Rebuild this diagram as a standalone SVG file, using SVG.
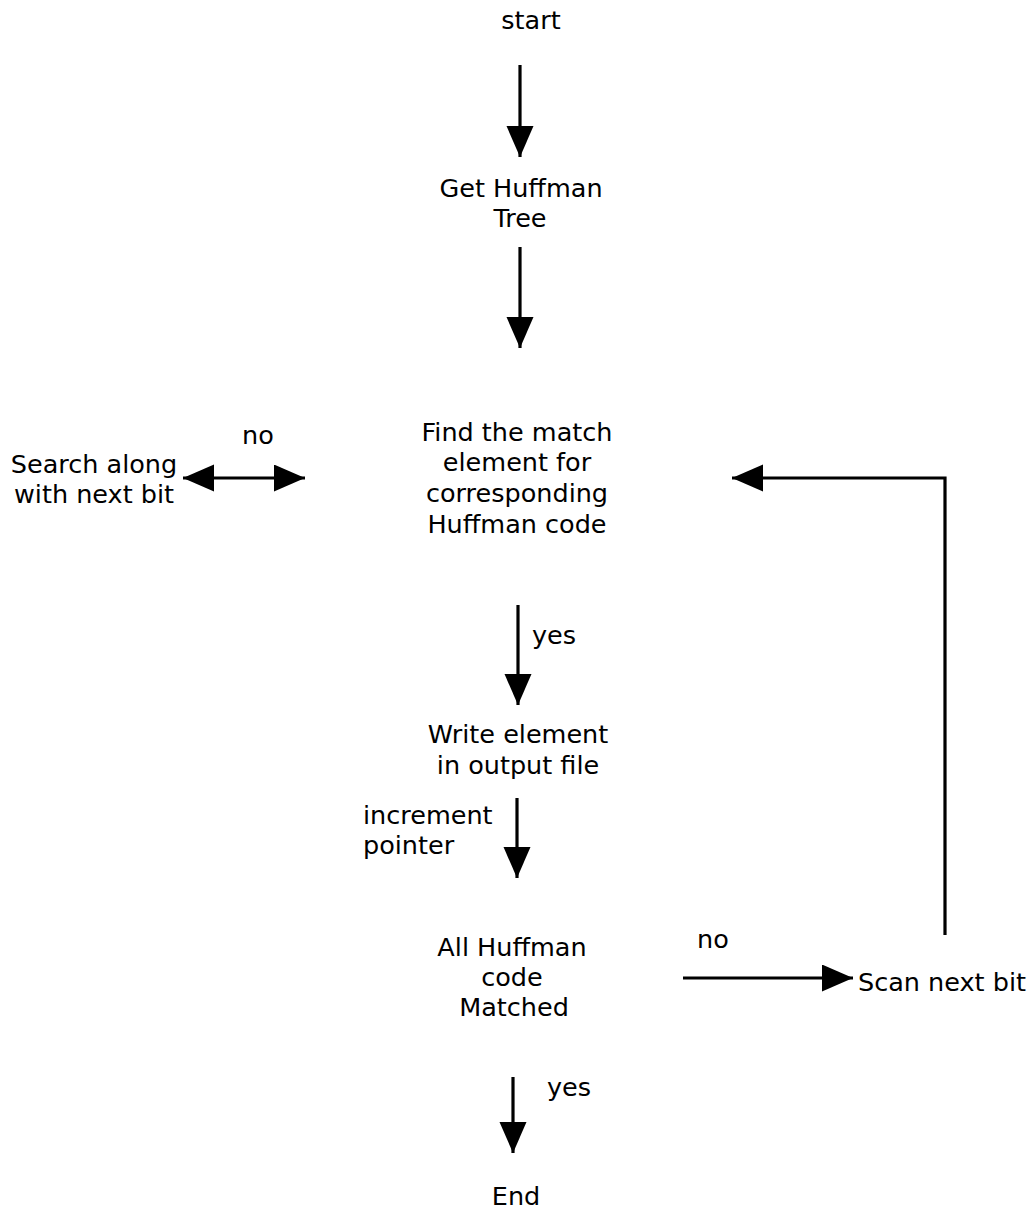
<svg xmlns="http://www.w3.org/2000/svg" width="1034" height="1212" viewBox="0 0 1034 1212">
<style>
text{font-family:"DejaVu Sans","Verdana",sans-serif;font-size:25.5px;fill:#000}
.c{text-anchor:middle}
.ln{stroke:#000;stroke-width:3.2;fill:none}
</style>
<defs>
<marker id="ah" markerUnits="userSpaceOnUse" markerWidth="32" markerHeight="28" refX="31" refY="13.5" orient="auto-start-reverse">
<path d="M0,0 L31,13.5 L0,27 z" fill="#000"/>
</marker>
</defs>
<rect width="1034" height="1212" fill="#fff"/>
<g id="start"><text class="c" x="531" y="29">start</text></g>
<g id="get-tree"><text class="c" x="521" y="197">Get Huffman</text><text class="c" x="520" y="227">Tree</text></g>
<g id="find-match"><text class="c" x="517" y="441">Find the match</text><text class="c" x="517" y="471">element for</text><text class="c" x="517" y="502">corresponding</text><text class="c" x="517" y="533">Huffman code</text></g>
<g id="search-along"><text class="c" x="94" y="473">Search along</text><text class="c" x="94" y="503">with next bit</text></g>
<g id="write-element"><text class="c" x="518" y="743">Write element</text><text class="c" x="518" y="774">in output file</text></g>
<g id="all-matched"><text class="c" x="512" y="956">All Huffman</text><text class="c" x="512" y="986">code</text><text class="c" x="514" y="1016">Matched</text></g>
<g id="scan-next"><text x="858" y="991">Scan next bit</text></g>
<g id="end"><text class="c" x="516" y="1205">End</text></g>
<g id="connectors">
<line class="ln" x1="520" y1="65" x2="520" y2="157" marker-end="url(#ah)"/>
<line class="ln" x1="520" y1="247" x2="520" y2="348" marker-end="url(#ah)"/>
<line class="ln" x1="183" y1="478" x2="305" y2="478" marker-start="url(#ah)" marker-end="url(#ah)"/>
<text class="c" x="258" y="444">no</text>
<polyline class="ln" points="945,935 945,478 732,478" marker-end="url(#ah)"/>
<line class="ln" x1="518" y1="605" x2="518" y2="705" marker-end="url(#ah)"/>
<text x="532" y="644">yes</text>
<line class="ln" x1="517" y1="798" x2="517" y2="878" marker-end="url(#ah)"/>
<text x="363" y="824">increment</text>
<text x="363" y="854">pointer</text>
<line class="ln" x1="683" y1="978" x2="853" y2="978" marker-end="url(#ah)"/>
<text class="c" x="713" y="948">no</text>
<line class="ln" x1="513" y1="1077" x2="513" y2="1153" marker-end="url(#ah)"/>
<text x="547" y="1096">yes</text>
</g>
</svg>
